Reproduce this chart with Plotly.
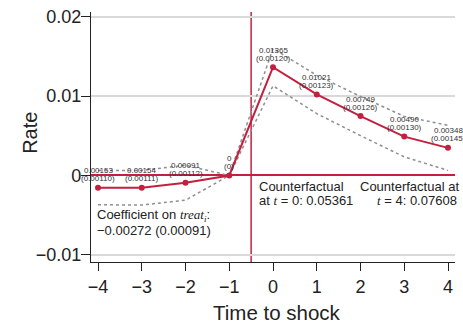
import plotly.graph_objects as go

# ---- data ----
periods = [-4, -3, -2, -1, 0, 1, 2, 3, 4]
estimates = [-0.00153, -0.00154, -0.00091, 0.0, 0.01365, 0.01021, 0.00749, 0.00490, 0.00348]
std_errors = [0.00110, 0.00111, 0.00112, 0.0, 0.00120, 0.00123, 0.00126, 0.00130, 0.00145]
ci_upper = [0.00063, 0.00064, 0.00129, 0.0, 0.01600, 0.01262, 0.00996, 0.00745, 0.00632]
ci_lower = [-0.00369, -0.00372, -0.00311, 0.0, 0.01130, 0.00780, 0.00502, 0.00235, 0.00064]
value_labels = ["0.00153", "0.00154", "0.00091", "0", "0.01365", "0.01021", "0.00749", "0.00490", "0.00348"]
se_labels = ["(0.00110)", "(0.00111)", "(0.00112)", "(0)", "(0.00120)", "(0.00123)", "(0.00126)", "(0.00130)", "(0.00145)"]
x_ticks = [-4, -3, -2, -1, 0, 1, 2, 3, 4]
y_ticks = [-0.01, 0, 0.01, 0.02]
y_tick_text = ["\u22120.01", "0", "0.01", "0.02"]
shock_x = -0.5

RED = "#c3203f"
GREY = "#8f8f8f"
TXT = "#222222"
FONT = "Liberation Sans, Arial, sans-serif"
SERIF = "font-family:Liberation Serif"

fig = go.Figure()

for band in (ci_upper, ci_lower):
    fig.add_trace(go.Scatter(
        x=periods, y=band, mode="lines",
        line=dict(color=GREY, width=1.5, dash="dot"),
        showlegend=False, hoverinfo="skip"))

fig.add_trace(go.Scatter(
    x=periods, y=estimates, mode="lines+markers",
    line=dict(color=RED, width=2),
    marker=dict(color=RED, size=6),
    showlegend=False))

# point labels: value and (standard error) above each point
for px, py, v, s in zip(periods, estimates, value_labels, se_labels):
    for txt, shift in ((v, 17), (s, 9)):
        fig.add_annotation(text=txt, x=px, y=py, xref="x", yref="y",
                           yshift=shift, showarrow=False, xanchor="center", yanchor="middle",
                           font=dict(size=8, color="#333333", family=FONT))

fig.add_shape(type="line", xref="x", yref="paper", x0=shock_x, x1=shock_x, y0=0, y1=1,
              line=dict(color=RED, width=1.5), layer="between")

def ann(text, x, y, xanchor="left", size=13):
    fig.add_annotation(text=text, xref="paper", yref="paper", x=x, y=y,
                       xanchor=xanchor, yanchor="middle", showarrow=False,
                       font=dict(size=size, color=TXT, family=FONT))

ann(f"Coefficient on <span style='{SERIF}'><i>treat</i><sub><i>i</i></sub></span>:", 0.012, 0.186)
ann("\u22120.00272 (0.00091)", 0.012, 0.128)
ann("Counterfactual", 0.456, 0.302)
ann(f"at <span style='{SERIF}'><i>t</i></span> = 0: 0.05361", 0.456, 0.247)
ann("Counterfactual at", 0.734, 0.302)
ann(f"<span style='{SERIF}'><i>t</i></span> = 4: 0.07608", 0.78, 0.247)

# axis titles placed as in the reference
fig.add_annotation(text="Rate", xref="paper", yref="paper", x=-0.168, y=0.516,
                   textangle=-90, showarrow=False, xanchor="center", yanchor="middle",
                   font=dict(size=20, color=TXT, family=FONT))
fig.add_annotation(text="Time to shock", xref="paper", yref="paper", x=0.511, y=-0.2,
                   showarrow=False, xanchor="center", yanchor="middle",
                   font=dict(size=20.5, color=TXT, family=FONT))

fig.update_layout(
    width=463, height=323,
    margin=dict(l=91, r=8, t=12, b=61, autoexpand=False),
    paper_bgcolor="white", plot_bgcolor="white",
    font=dict(family=FONT, color=TXT),
    xaxis=dict(range=[-4.16, 4.16], tickvals=x_ticks, showgrid=False, zeroline=False,
               showline=True, linecolor="#222222", linewidth=1.3, automargin=False,
               ticks="outside", ticklen=8, tickwidth=1.3, tickcolor="#222222",
               tickfont=dict(size=18)),
    yaxis=dict(range=[-0.0109, 0.0206], tickvals=y_ticks, ticktext=y_tick_text,
               showgrid=True, gridcolor="#d9d9d9", gridwidth=1.5,
               zeroline=True, zerolinecolor=RED, zerolinewidth=1.5,
               showline=True, linecolor="#222222", linewidth=1.3, automargin=False,
               ticks="outside", ticklen=9, tickwidth=1.3, tickcolor="#222222",
               ticklabelstandoff=-4,
               tickfont=dict(size=18)),
)

fig.write_html("out.html")
